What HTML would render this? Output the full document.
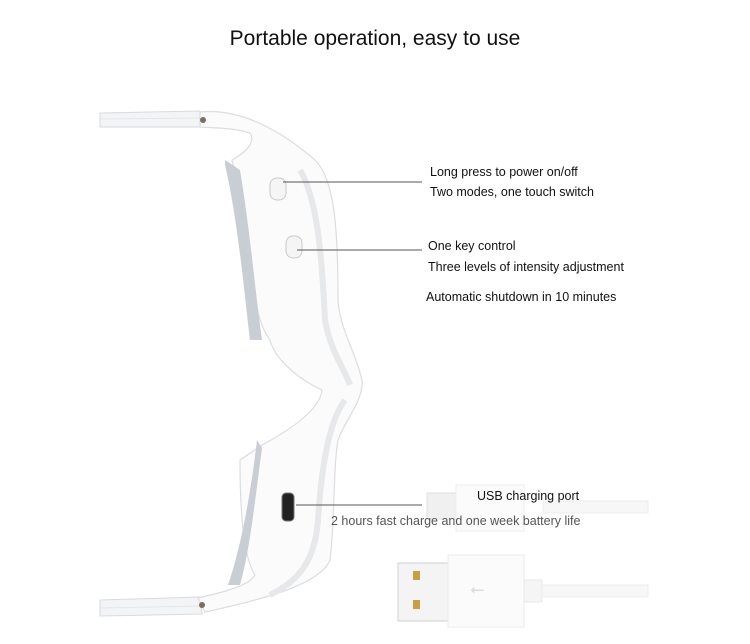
<!DOCTYPE html>
<html><head><meta charset="utf-8"><style>
body{margin:0;background:#fff;width:750px;height:644px;overflow:hidden;font-family:"Liberation Sans",sans-serif}
.t{position:absolute;font-size:12.5px;color:#111;white-space:nowrap}
</style></head><body>
<svg width="750" height="644" style="position:absolute;left:0;top:0">
<!-- top arm -->
<path d="M100 113 L200 111 L202 127 L100 127Z" fill="#f3f4f6" stroke="#d8dadd"/>
<line x1="100" y1="119" x2="200" y2="118" stroke="#e4e6e9"/>
<!-- bottom arm -->
<path d="M100 600 L200 597 L202 614 L100 616Z" fill="#f3f4f6" stroke="#d8dadd"/>
<line x1="100" y1="608" x2="200" y2="606" stroke="#e4e6e9"/>
<!-- body -->
<path d="M200 112 C240 108 280 130 315 160 C335 180 338 230 338 300 C340 330 355 350 362 380 C364 400 345 420 338 440 C333 470 335 520 330 560 C320 585 260 600 205 612 L198 598 C225 592 250 585 255 575 C245 560 240 520 240 460 L262 445 C290 430 320 410 322 390 C300 380 275 360 270 340 C262 330 250 300 248 230 L232 160 C250 150 255 140 250 133 C235 128 215 128 200 127Z" fill="#fbfbfc" stroke="#dcdde0" stroke-width="1.2"/>
<!-- lens strips -->
<path d="M225 160 L240 170 C250 230 255 290 262 340 L250 340 C245 300 238 220 225 165Z" fill="#c9ced4"/>
<path d="M257 440 L262 448 C255 500 250 550 240 585 L228 585 C240 550 250 500 257 440Z" fill="#c9ced4"/>
<!-- shading -->
<path d="M300 170 C318 200 322 260 325 320 C330 350 345 370 350 385" fill="none" stroke="#e7e8ea" stroke-width="6"/>
<path d="M345 400 C330 420 322 460 318 520 C315 560 300 580 270 595" fill="none" stroke="#e7e8ea" stroke-width="6"/>
<!-- screws -->
<circle cx="203" cy="120" r="3" fill="#7a6f60"/><circle cx="202" cy="605" r="3" fill="#7a6f60"/>
<!-- buttons -->
<rect x="270" y="178" width="16" height="22" rx="7" fill="#f5f5f5" stroke="#c8c9cc"/>
<rect x="286" y="236" width="16" height="22" rx="7" fill="#f5f5f5" stroke="#c8c9cc"/>
<rect x="282" y="493" width="12" height="28" rx="4" fill="#222" stroke="#777"/>
<!-- leader lines -->
<line x1="283" y1="182" x2="422" y2="182" stroke="#555"/>
<line x1="297" y1="250" x2="422" y2="250" stroke="#555"/>
<line x1="296" y1="505" x2="422" y2="505" stroke="#555"/>
<!-- micro usb cable -->
<rect x="427" y="493" width="30" height="26" fill="#f0f0f0" stroke="#e0e0e0"/>
<rect x="456" y="485" width="68" height="46" fill="#fbfbfb" stroke="#ededed"/>
<rect x="543" y="501" width="105" height="12" fill="#f7f7f7" stroke="#ececec"/>
<!-- usb A -->
<rect x="398" y="563" width="50" height="58" fill="#f4f4f4" stroke="#d0d0d0"/>
<rect x="413" y="571" width="7" height="9" fill="#c9a040"/>
<rect x="413" y="600" width="7" height="9" fill="#c9a040"/>
<rect x="448" y="555" width="76" height="72" fill="#fbfbfb" stroke="#ebebeb"/>
<text x="470" y="595" fill="#ddd" font-size="18">⭠</text>
<rect x="524" y="580" width="18" height="22" fill="#f5f5f5" stroke="#e8e8e8"/>
<rect x="542" y="585" width="106" height="12" fill="#f7f7f7" stroke="#ececec"/>
</svg>
<div class="t" style="left:0;width:750px;text-align:center;top:27px;font-size:21px">Portable operation, easy to use</div>
<div class="t" style="left:430px;top:165px">Long press to power on/off</div>
<div class="t" style="left:430px;top:185px">Two modes, one touch switch</div>
<div class="t" style="left:428px;top:239px">One key control</div>
<div class="t" style="left:428px;top:260px">Three levels of intensity adjustment</div>
<div class="t" style="left:426px;top:290px">Automatic shutdown in 10 minutes</div>
<div class="t" style="left:477px;top:489px">USB charging port</div>
<div class="t" style="left:331px;top:514px;color:#555">2 hours fast charge and one week battery life</div>
</body></html>
